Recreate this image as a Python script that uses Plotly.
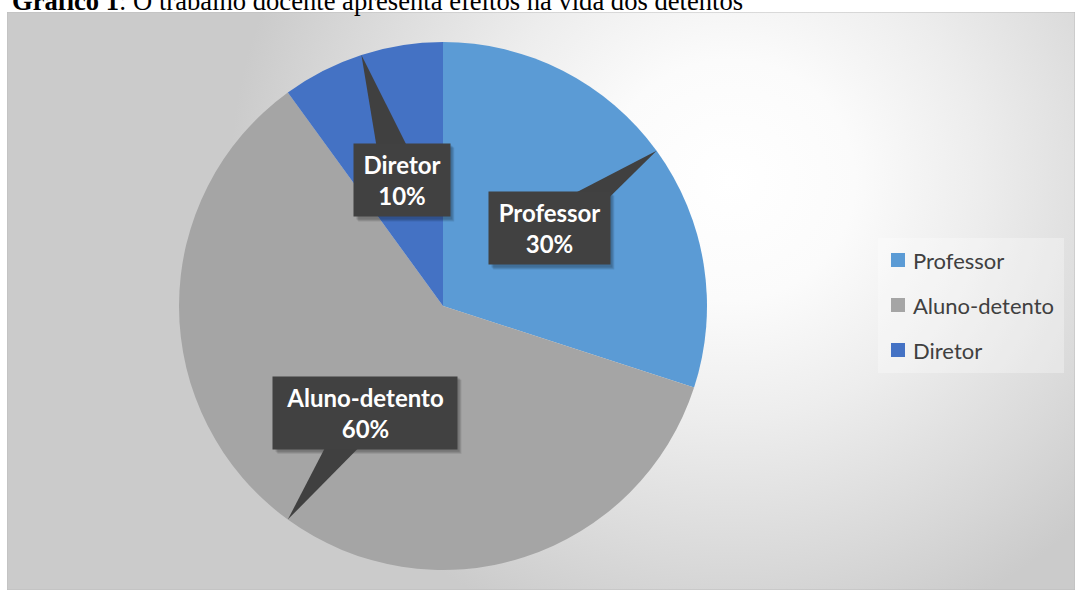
import math
import plotly.graph_objects as go

# ---------------- data ----------------
title_bold = "Gráfico 1"
title_rest = ": O trabalho docente apresenta efeitos na vida dos detentos"
labels = ["Professor", "Aluno-detento", "Diretor"]
values = [30, 60, 10]
colors = ["#5B9BD5", "#A5A5A5", "#4472C4"]

# ---------------- layout constants ----------------
W, H = 1075, 590
FX0, FY0 = 7, 12              # chart frame top-left (px)
pie_dom_x = [179 / W, 707 / W]
pie_dom_y = [1 - 570 / H, 1 - 42 / H]
cx = (pie_dom_x[0] + pie_dom_x[1]) / 2 * W
cy = (1 - (pie_dom_y[0] + pie_dom_y[1]) / 2) * H
R = min((pie_dom_x[1] - pie_dom_x[0]) * W, (pie_dom_y[1] - pie_dom_y[0]) * H) / 2

LABEL_FONT = "Lato"
box_widths = [121, 184, 96]
BOX_H = 74
BORDERPAD = 6

fig = go.Figure()

# background: base colour + radial light spot
fig.add_trace(go.Scatter(
    x=[FX0 - 5, W + 5, W + 5, FX0 - 5, FX0 - 5],
    y=[FY0 - 5, FY0 - 5, H + 5, H + 5, FY0 - 5],
    mode="lines", line=dict(width=0), fill="toself", fillcolor="#cbcbcb",
    hoverinfo="skip", showlegend=False))
gx, gy, rx, ry = 730, 180, 500, 480
fig.add_trace(go.Scatter(
    x=[gx - rx, gx + rx, gx + rx, gx - rx, gx - rx],
    y=[gy - ry, gy - ry, gy + ry, gy + ry, gy - ry],
    mode="lines", line=dict(width=0), fill="toself",
    fillgradient=dict(type="radial", colorscale=[
        [0, "#ffffff"], [0.25, "#fbfbfb"], [0.5, "#ededed"], [0.8, "#d9d9d9"], [1, "#cbcbcb"]]),
    hoverinfo="skip", showlegend=False))

fig.add_trace(go.Pie(
    labels=labels, values=values, sort=False, direction="clockwise", rotation=0,
    marker=dict(colors=colors, line=dict(width=0)),
    textinfo="none", hoverinfo="label+percent", showlegend=False,
    domain=dict(x=pie_dom_x, y=pie_dom_y)))

shapes = []
annotations = []

# frame border
shapes.append(dict(type="rect", xref="x", yref="y", x0=FX0, y0=FY0, x1=W, y1=H,
                   line=dict(color="#bdbdbd", width=1), fillcolor="rgba(0,0,0,0)", layer="above"))

# callout labels
total = sum(values)
cum = 0
for i, (lab, v) in enumerate(zip(labels, values)):
    mid = math.radians((cum + v / 2) / total * 360)
    cum += v
    sx, sy = math.sin(mid), -math.cos(mid)
    tipx, tipy = cx + R * sx, cy + R * sy
    bx, by = cx + 0.5 * R * sx, cy + 0.5 * R * sy
    px, py = -sy, sx
    bw = 20
    path = (f"M {bx + px * bw:.1f},{by + py * bw:.1f} L {bx - px * bw:.1f},{by - py * bw:.1f} "
            f"L {tipx:.1f},{tipy:.1f} Z")
    # soft shadow of the box
    for k, a in enumerate([0.10, 0.10, 0.10]):
        off = 2 + k
        shapes.append(dict(type="rect", xref="x", yref="y",
                           x0=bx - box_widths[i] / 2 + off, x1=bx + box_widths[i] / 2 + off,
                           y0=by - BOX_H / 2 + off, y1=by + BOX_H / 2 + off,
                           fillcolor=f"rgba(0,0,0,{a})", line=dict(width=0), layer="above"))
    shapes.append(dict(type="path", xref="x", yref="y", path=path,
                       fillcolor="#404040", line=dict(width=0), layer="above"))
    pct = f"{v / total * 100:.0f}%"
    txt = f"<b>{lab}</b><br><b>{pct}</b>"
    annotations.append(dict(x=bx, y=by, xref="x", yref="y", text=txt, showarrow=False,
                            font=dict(family=LABEL_FONT, size=24, color="white"),
                            bgcolor="#414141", borderpad=BORDERPAD,
                            width=box_widths[i] - 2 * BORDERPAD))

# legend (manual)
leg_x0, leg_y0, leg_x1, leg_y1 = 878, 238, 1064, 373
shapes.append(dict(type="rect", xref="x", yref="y", x0=leg_x0, y0=leg_y0, x1=leg_x1, y1=leg_y1,
                   fillcolor="rgba(255,255,255,0.3)", line=dict(width=0), layer="above"))
row0, row_gap = 260, 45
for i, lab in enumerate(labels):
    yc = row0 + i * row_gap
    shapes.append(dict(type="rect", xref="x", yref="y", x0=891, x1=905, y0=yc - 7, y1=yc + 7,
                       fillcolor=colors[i], line=dict(width=0), layer="above"))
    annotations.append(dict(x=911, y=yc, xref="x", yref="y", xanchor="left", yanchor="middle",
                            text=lab, showarrow=False,
                            font=dict(family=LABEL_FONT, size=22, color="#404040")))

# title
annotations.append(dict(x=10 / W, y=1 - 1 / H, xref="paper", yref="paper",
                        xanchor="left", yanchor="middle", showarrow=False,
                        text=f"<b>{title_bold}</b>{title_rest}",
                        font=dict(family="Liberation Serif, Times New Roman, serif", size=26.6,
                                  color="black")))

fig.update_layout(
    width=W, height=H, margin=dict(l=0, r=0, t=0, b=0),
    paper_bgcolor="white", plot_bgcolor="rgba(0,0,0,0)",
    xaxis=dict(domain=[FX0 / W, 1], range=[FX0, W], visible=False, fixedrange=True),
    yaxis=dict(domain=[0, 1 - FY0 / H], range=[H, FY0], visible=False, fixedrange=True),
    shapes=shapes, annotations=annotations, showlegend=False,
)

fig.write_html("out.html")
